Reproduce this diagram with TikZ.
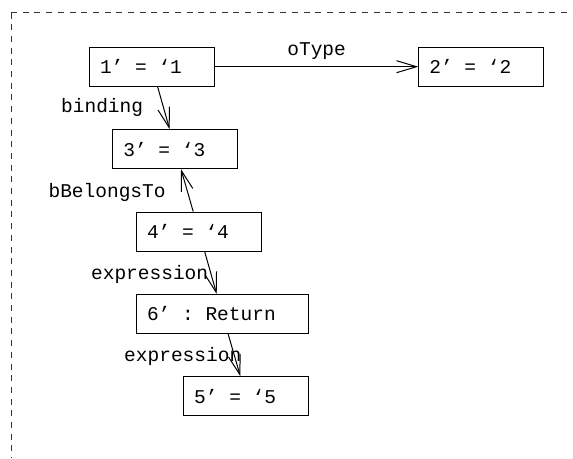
\documentclass[tikz,border=0pt]{standalone}
\usepackage{fontspec}
\setmonofont{Liberation Mono}
\usetikzlibrary{arrows.meta}

% box contents sit to the left, with room to spare on the right
\newcommand{\objtext}[1]{\hspace*{10.5pt}#1\hspace*{32.5pt}}

\tikzset{
  obj/.style={draw, line width=1pt, anchor=north west, inner xsep=0pt, inner ysep=0pt,
    minimum height=39pt, font=\ttfamily\fontsize{19.5}{22}\selectfont},
  lbl/.style={inner sep=0pt, font=\ttfamily\fontsize{19.5}{22}\selectfont},
  link/.style={line width=1pt, -{Straight Barb[length=20pt,width=12pt,line width=1pt]}},
  frame/.style={line width=1pt, black!80, dash pattern=on 6pt off 5.7pt}
}

\begin{document}
\begin{tikzpicture}[x=1pt,y=-1pt]
\useasboundingbox (0,0) rectangle (573,458);

% Draw the frame (only its top and left sides are in view)
\draw[frame] (11,12.5) -- (573,12.5);
\draw[frame] (11,12.5) -- (11,458);

% Draw the objects
\node[obj] (v1) at (89,46.7) {\objtext{1’ = ‘1}};
\node[obj] (v2) at (418.3,46.7) {\objtext{2’ = ‘2}};
\node[obj] (v3) at (112.3,129.2) {\objtext{3’ = ‘3}};
\node[obj] (v4) at (136,211.5) {\objtext{4’ = ‘4}};
\node[obj] (v6) at (136,294) {\objtext{6’ : Return}};
\node[obj] (v5) at (183.2,376.3) {\objtext{5’ = ‘5}};

% Draw the links
\draw[link] (v1) -- node[lbl, above=7pt] {oType} (v2);
\draw[link] (v1) -- node[lbl, anchor=east, xshift=-20pt] {binding} (v3);
\draw[link] (v4) -- node[lbl, anchor=east, xshift=-21pt, yshift=-2pt] {bBelongsTo} (v3);
\draw[link] (v4) -- node[lbl, anchor=east, xshift=-2pt, yshift=-2pt] {expression} (v6);
\draw[link] (v6) -- node[lbl, anchor=east, xshift=7.5pt, yshift=-1pt] {expression} (v5);

\end{tikzpicture}
\end{document}
